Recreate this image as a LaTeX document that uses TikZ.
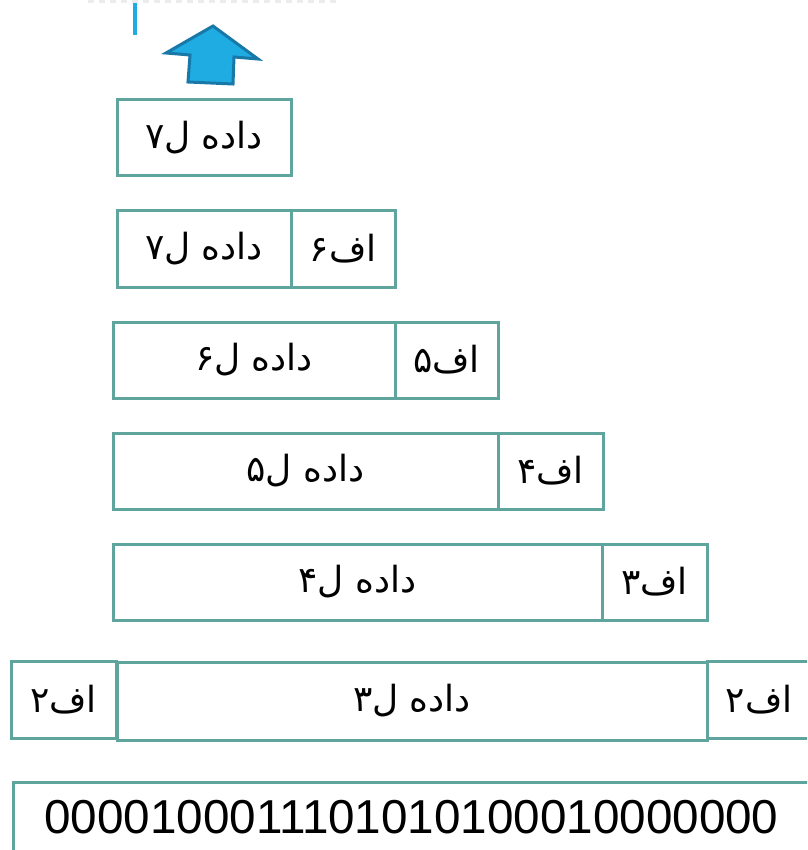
\documentclass[tikz,border=0pt]{standalone}
\usepackage{fontspec}
\newfontfamily\farsi[Script=Arabic]{DejaVu Sans}
\newfontfamily\bitsfont{Liberation Sans}
\TeXXeTstate=1
\newcommand{\fatext}[1]{\beginR #1\endR}
\definecolor{boxteal}{RGB}{95,165,158}
\definecolor{arrowblue}{RGB}{30,172,226}
\definecolor{arrowedge}{RGB}{24,120,168}

\begin{document}
\begin{tikzpicture}[x=1pt, y=-1pt,
	cell/.style={draw=boxteal, line width=3pt, rectangle, inner sep=0pt, outer sep=0pt,
		minimum height=76pt, anchor=north west,
		font=\farsi\fontsize{36}{42}\selectfont}]
	\useasboundingbox (0,0) rectangle (807,850);
	\clip (0,0) rectangle (807,850);
	% top strip and the arrow
	\draw[gray!15, line width=4pt, dash pattern=on 6pt off 5pt] (88,1.5) -- (338,1.5);
	\draw[arrowblue, line width=3.5pt] (135,3) -- (135,35);
	\draw[arrowedge, fill=arrowblue, line width=3pt] (213,26) -- (166,53) -- (190,55) -- (188,82)
		-- (233,84) -- (234,57) -- (258,59) -- cycle;
	% frames
	\node[cell, minimum width=174pt] (d7) at (117,100) {\fatext{داده ل۷}};
	\node[cell, minimum width=174pt] (d7b) at (117,211) {\fatext{داده ل۷}};
	\node[cell, minimum width=104pt, anchor=west] (h6) at (d7b.east) {\fatext{اف۶}};
	\node[cell, minimum width=282pt] (d6) at (113,322) {\fatext{داده ل۶}};
	\node[cell, minimum width=103pt, anchor=west] (h5) at (d6.east) {\fatext{اف۵}};
	\node[cell, minimum width=385pt] (d5) at (113,433) {\fatext{داده ل۵}};
	\node[cell, minimum width=105pt, anchor=west] (h4) at (d5.east) {\fatext{اف۴}};
	\node[cell, minimum width=489pt] (d4) at (113,544) {\fatext{داده ل۴}};
	\node[cell, minimum width=105pt, anchor=west] (h3) at (d4.east) {\fatext{اف۳}};
	\node[cell, minimum width=105pt, minimum height=77pt] (h2a) at (11,661) {\fatext{اف۲}};
	\node[cell, minimum width=590pt, minimum height=78pt] (d3) at (117,662) {\fatext{داده ل۳}};
	\node[cell, minimum width=104pt, minimum height=77pt] (h2b) at (707,661) {\fatext{اف۲}};
	% bit stream
	\node[cell, minimum width=797pt, minimum height=70pt,
		font=\bitsfont\fontsize{47.6}{56}\selectfont] (bits) at (13,782) {0000100011101010100010000000};
\end{tikzpicture}
\end{document}
